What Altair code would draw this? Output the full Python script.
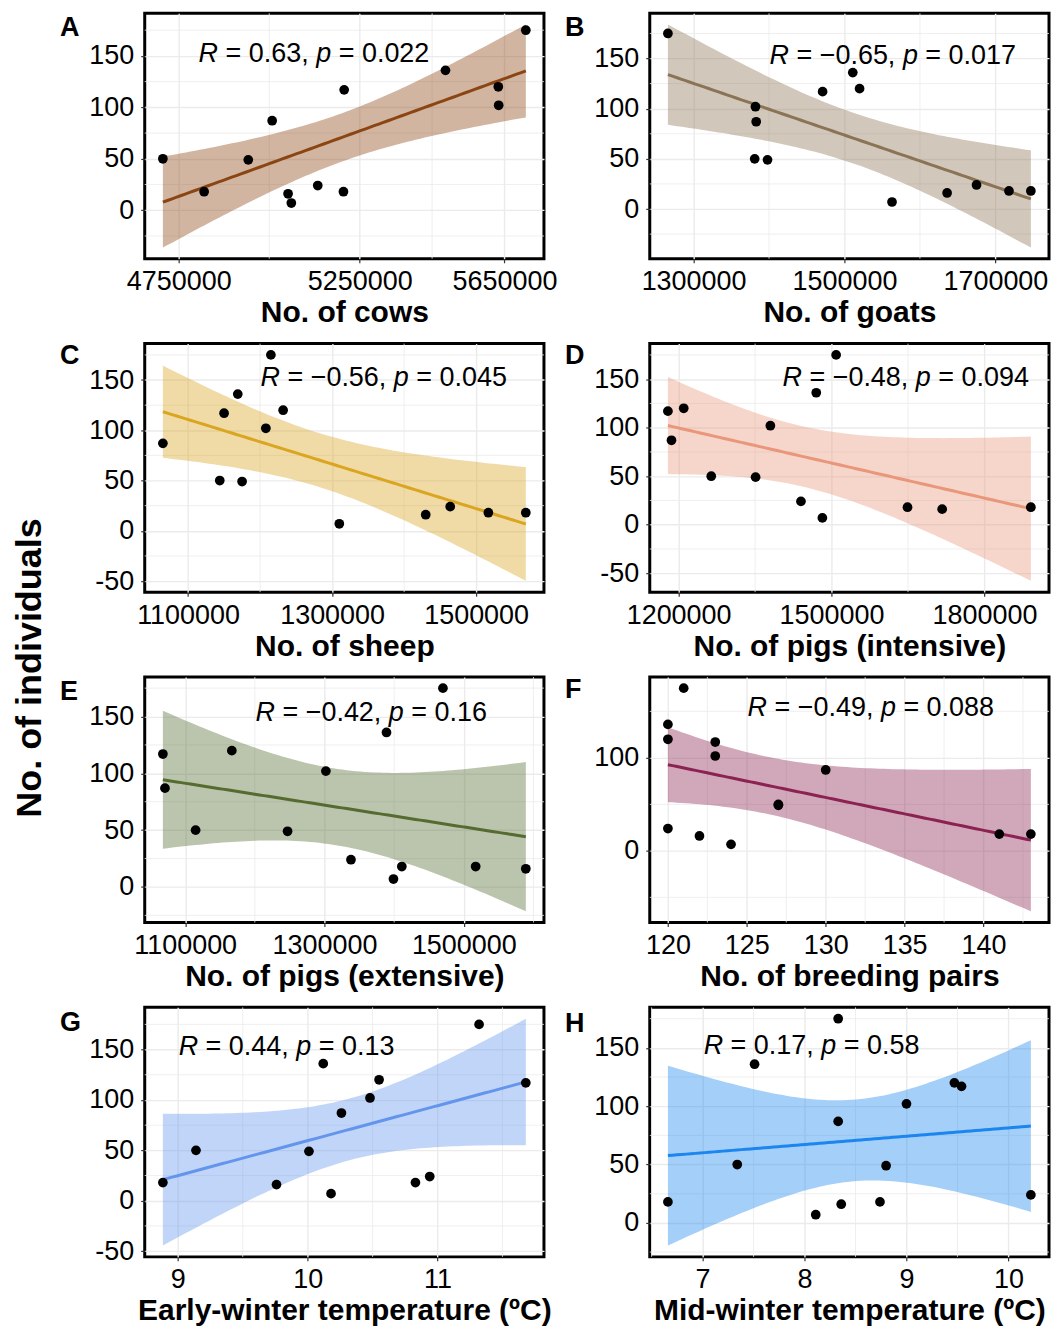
import numpy as np
import pandas as pd
import altair as alt

# Number of individuals counted in each of the 13 survey years
individuals = [175, 136, 120, 117, 102, 87, 50, 49, 24, 18, 18, 16, 7]

# Explanatory variables, same year order as `individuals`
cows = [5709000, 5487000, 5633000, 5207000, 5634000, 5008000, 4706000,
        4942000, 5134000, 4820000, 5205000, 5052000, 5061000]
goats = [1266000, 1511000, 1520000, 1471000, 1382000, 1383000, 1381000,
         1398000, 1675000, 1718000, 1747000, 1636000, 1563000]
sheep = [1215000, 1169000, 1232000, 1150000, 1208000, 1065000, 1144000,
         1175000, 1464000, 1517000, 1569000, 1430000, 1310000]
pigs_intensive = [1509000, 1470000, 1210000, 1179000, 1380000, 1186000, 1264000,
                  1351000, 1440000, 1649000, 1891000, 1717000, 1482000]
pigs_extensive = [1470000, 1389000, 1167000, 1068000, 1302000, 1071000, 1115000,
                  1247000, 1338000, 1411000, 1517000, 1589000, 1399000]
breeding_pairs = [121, 120, 120, 123, 123, 130, 127, 127, 120, 141, 143, 122, 124]
early_winter = [11.32, 10.12, 10.55, 11.68, 10.48, 10.26, 9.14, 10.01, 10.94,
                8.885, 10.83, 9.76, 10.18]
mid_winter = [8.33, 7.51, 9.47, 9.54, 9.00, 8.33, 7.34, 8.80, 10.22, 6.66,
              8.74, 8.36, 8.11]

# Correlation results printed on each panel
r_values = ["0.63", "\u22120.65", "\u22120.56", "\u22120.48", "\u22120.42", "\u22120.49", "0.44", "0.17"]
p_values = ["0.022", "0.017", "0.045", "0.094", "0.16", "0.088", "0.13", "0.58"]

panel_letters = ["A", "B", "C", "D", "E", "F", "G", "H"]
x_titles = ["No. of cows", "No. of goats", "No. of sheep", "No. of pigs (intensive)",
            "No. of pigs (extensive)", "No. of breeding pairs",
            "Early-winter temperature (\u00baC)", "Mid-winter temperature (\u00baC)"]
line_colors = ["#8B4513", "#8B7355", "#DAA520", "#E9967A",
               "#556B2F", "#8B2252", "#6495ED", "#1C86EE"]

# Axis tick labels
x_breaks = [
    [4750000, 5250000, 5650000],
    [1300000, 1500000, 1700000],
    [1100000, 1300000, 1500000],
    [1200000, 1500000, 1800000],
    [1100000, 1300000, 1500000],
    [120, 125, 130, 135, 140],
    [9, 10, 11],
    [7, 8, 9, 10],
]
y_breaks = [
    [0, 50, 100, 150],
    [0, 50, 100, 150],
    [-50, 0, 50, 100, 150],
    [-50, 0, 50, 100, 150],
    [0, 50, 100, 150],
    [0, 100],
    [-50, 0, 50, 100, 150],
    [0, 50, 100, 150],
]
x_series = [cows, goats, sheep, pigs_intensive, pigs_extensive,
            breeding_pairs, early_winter, mid_winter]

# Layout (pixels)
PANEL_W = 400
ROW_H = [246, 249, 246, 250]
ANNOT_X = [54, 120, 116, 133, 111, 98, 34, 54]
ANNOT_Y = [41, 43, 34, 34, 36, 31, 40, 39]
LETTER_Y = [15, 15, 12, 12, 15, 13, 16, 17]

FONT = "Liberation Sans"
GRID = "#ebebeb"
T_CRIT = 2.200985  # two-sided 95% t quantile, 11 degrees of freedom

# Advance widths (em) of Liberation Sans glyphs used in the annotations
GLYPH_W = {" ": 0.278, ".": 0.278, ",": 0.278, "=": 0.584, "\u2212": 0.584,
           "R": 0.722, "p": 0.556}
ANNOT_SIZE = 27


def text_width(s, size=ANNOT_SIZE):
    return sum(GLYPH_W.get(c, 0.556) for c in s) * size


def linear_fit(x, y):
    x = np.asarray(x, float)
    y = np.asarray(y, float)
    n = len(x)
    xm = x.mean()
    sxx = ((x - xm) ** 2).sum()
    slope = ((x - xm) * (y - y.mean())).sum() / sxx
    icpt = y.mean() - slope * xm
    resid = y - (icpt + slope * x)
    s = np.sqrt((resid ** 2).sum() / (n - 2))
    grid = np.linspace(x.min(), x.max(), 80)
    fit = icpt + slope * grid
    se = s * np.sqrt(1.0 / n + (grid - xm) ** 2 / sxx)
    return pd.DataFrame({"x": grid, "fit": fit, "lo": fit - T_CRIT * se, "hi": fit + T_CRIT * se})


def expand(lo, hi, frac=0.05):
    d = (hi - lo) * frac
    return [float(lo - d), float(hi + d)]


def minor_breaks(major, domain):
    steps = [b - a for a, b in zip(major[:-1], major[1:])]
    mids = [(a + b) / 2 for a, b in zip(major[:-1], major[1:])]
    mids += [major[0] - steps[0] / 2, major[-1] + steps[-1] / 2]
    return sorted(float(m) for m in mids if domain[0] <= m <= domain[1])


def make_axis(major, title, label_pad, title_pad=4):
    return alt.Axis(
        values=major,
        title=title,
        labelExpr="'' + datum.value",
        labelOverlap=False,
        labelFlush=False,
        labelFont=FONT,
        labelFontSize=27,
        labelColor="black",
        labelPadding=label_pad,
        domain=False,
        ticks=True,
        tickSize=4,
        tickWidth=1.2,
        tickColor="#333333",
        grid=True,
        gridColor=GRID,
        gridWidth=1.4,
        titleFont=FONT,
        titleFontSize=30,
        titleFontWeight="bold",
        titleColor="black",
        titlePadding=title_pad,
    )


def panel(i, height):
    xs = x_series[i]
    col = line_colors[i]
    band = linear_fit(xs, individuals)
    pts = pd.DataFrame({"x": xs, "y": individuals})

    x_dom = expand(min(xs), max(xs))
    y_dom = expand(min(band["lo"].min(), min(individuals)),
                   max(band["hi"].max(), max(individuals)))
    xscale = alt.Scale(domain=x_dom, nice=False, zero=False)
    yscale = alt.Scale(domain=y_dom, nice=False, zero=False)
    xaxis = make_axis(x_breaks[i], x_titles[i], 6, 3)
    yaxis = make_axis(y_breaks[i], None, 7)

    # minor grid lines, half-way between the labelled breaks
    x_minor = pd.DataFrame({"x": minor_breaks(x_breaks[i], x_dom)})
    y_minor = pd.DataFrame({"y": minor_breaks(y_breaks[i], y_dom)})
    vgrid = alt.Chart(x_minor).mark_rule(color=GRID, strokeWidth=0.8).encode(
        x=alt.X("x:Q", scale=xscale, axis=xaxis),
        y=alt.value(0), y2=alt.value(height),
    )
    hgrid = alt.Chart(y_minor).mark_rule(color=GRID, strokeWidth=0.8).encode(
        y=alt.Y("y:Q", scale=yscale, axis=yaxis),
        x=alt.value(0), x2=alt.value(PANEL_W),
    )

    area = alt.Chart(band).mark_area(color=col, opacity=0.4).encode(
        x=alt.X("x:Q", scale=xscale, axis=xaxis),
        y=alt.Y("lo:Q", scale=yscale, axis=yaxis),
        y2="hi:Q",
    )
    line = alt.Chart(band).mark_line(color=col, strokeWidth=3).encode(
        x=alt.X("x:Q", scale=xscale),
        y=alt.Y("fit:Q", scale=yscale),
    )
    dots = alt.Chart(pts).mark_circle(color="black", size=95, opacity=1).encode(
        x=alt.X("x:Q", scale=xscale),
        y=alt.Y("y:Q", scale=yscale),
    )

    # "R = r, p = p" with italic R and p
    x0 = ANNOT_X[i]
    r_txt = f"= {r_values[i]},"
    p_txt = f"= {p_values[i]}"
    pieces = [
        ("R", x0, "italic"),
        (r_txt, x0 + text_width("R "), "normal"),
        ("p", x0 + text_width(f"R {r_txt} "), "italic"),
        (p_txt, x0 + text_width(f"R {r_txt} p "), "normal"),
    ]
    labels = []
    for txt, px, style in pieces:
        labels.append(
            alt.Chart(pd.DataFrame({"t": [txt]})).mark_text(
                align="left", baseline="middle", font=FONT, fontSize=ANNOT_SIZE,
                fontStyle=style, color="black",
            ).encode(text="t:N", x=alt.value(px), y=alt.value(ANNOT_Y[i]))
        )

    letter = alt.Chart(pd.DataFrame({"t": [panel_letters[i]]})).mark_text(
        align="left", baseline="middle", font=FONT, fontSize=27,
        fontWeight="bold", color="black",
    ).encode(text="t:N", x=alt.value(-85), y=alt.value(LETTER_Y[i]))

    layers = [vgrid, hgrid, area, line, dots, letter] + labels
    if i == 4:
        # shared y-axis title, centred on the whole figure height
        layers.append(
            alt.Chart(pd.DataFrame({"t": ["No. of individuals"]})).mark_text(
                align="center", baseline="middle", angle=270, font=FONT,
                fontSize=36, fontWeight="bold", color="black",
            ).encode(text="t:N", x=alt.value(-115), y=alt.value(-9))
        )
    return alt.layer(*layers).properties(width=PANEL_W, height=height)


panels = [panel(i, ROW_H[i // 2]) for i in range(8)]

chart = alt.concat(
    *panels, columns=2, spacing={"row": 85, "column": 106}, bounds="flush"
).properties(
    padding={"left": 10, "top": 10, "right": 2, "bottom": 2},
    background="white",
).configure_view(stroke="black", strokeWidth=3)

chart.save("out.html", embed_options={"renderer": "svg", "actions": False})
